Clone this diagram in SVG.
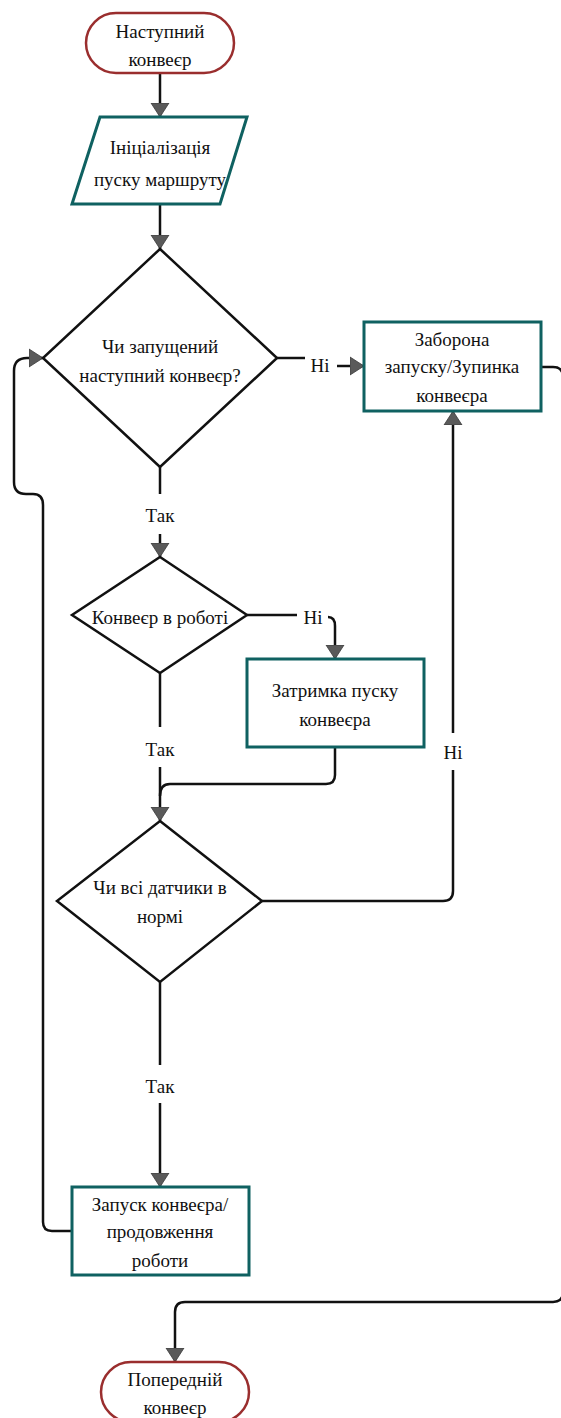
<svg xmlns="http://www.w3.org/2000/svg" width="561" height="1418" viewBox="0 0 561 1418">
<style>
.bg{fill:#fff}
.term{fill:#fff;stroke:#9a2e2e;stroke-width:2.5}
.proc{fill:#fff;stroke:#0f6161;stroke-width:3}
.dec{fill:#fff;stroke:#111;stroke-width:2.5;stroke-linejoin:miter}
.t{font-family:"Liberation Serif","DejaVu Serif",serif;font-size:19px;fill:#111;text-anchor:middle}
.c{fill:none;stroke:#111;stroke-width:2.5}
.ca{fill:none;stroke:#111;stroke-width:2.5;marker-end:url(#ah)}
</style>
<defs>
<marker id="ah" markerUnits="userSpaceOnUse" markerWidth="16" markerHeight="20" refX="14" refY="10" orient="auto" viewBox="0 0 16 20">
<path d="M0,1 L14,10 L0,19 Z" fill="#5a5a5a" stroke="#3a3a3a" stroke-width="0.8"/>
</marker>
</defs>
<rect class="bg" x="0" y="0" width="561" height="1418"/>
<g id="connectors">
<path class="ca" d="M160 73 V117"/>
<path class="ca" d="M160 204 V249"/>
<path class="c" d="M277 358 H305"/>
<path class="ca" d="M337 366 H364"/>
<path class="c" d="M160 467 V494"/>
<path class="ca" d="M160 534 V557"/>
<path class="c" d="M247 615 H297"/>
<path class="ca" d="M328 617 Q335 617 335 626 V659"/>
<path class="c" d="M160 673 V727"/>
<path class="ca" d="M160 767 V821"/>
<path class="c" d="M335 747 V775 Q335 784 326 784 H170 Q160 784 160 796"/>
<path class="c" d="M262 901 H443 Q453 901 453 891 V770"/>
<path class="ca" d="M453 733 V411"/>
<path class="c" d="M160 982 V1065"/>
<path class="ca" d="M160 1103 V1187"/>
<path class="ca" d="M72 1231 H52 Q43 1231 43 1222 V505 Q43 494 33 494 H26 Q14 494 14 482 V371 Q14 358 27 358 H43"/>
<path class="ca" d="M541 367 H553 Q563 367 563 377 V1292 Q563 1302 553 1302 H185 Q175 1302 175 1312 V1362"/>
<text class="t" x="320" y="372">Ні</text>
<text class="t" x="160" y="522">Так</text>
<text class="t" x="313" y="624">Ні</text>
<text class="t" x="160" y="756">Так</text>
<text class="t" x="453" y="759">Ні</text>
<text class="t" x="160" y="1093">Так</text>
</g>
<g id="start">
<rect class="term" x="86" y="13" width="148" height="60" rx="30" ry="30"/>
<text class="t" x="160" y="38">Наступний</text>
<text class="t" x="160" y="66">конвеєр</text>
</g>
<g id="init">
<polygon class="proc" points="100,117 247,117 220,204 72,204"/>
<text class="t" x="160" y="154">Ініціалізація</text>
<text class="t" x="160" y="186">пуску маршруту</text>
</g>
<g id="dec1">
<polygon class="dec" points="160,249 277,358 160,467 43,358"/>
<text class="t" x="160" y="353">Чи запущений</text>
<text class="t" x="160" y="382">наступний конвеєр?</text>
</g>
<g id="stop">
<rect class="proc" x="364" y="322" width="177" height="89"/>
<text class="t" x="452" y="346">Заборона</text>
<text class="t" x="452" y="373">запуску/Зупинка</text>
<text class="t" x="452" y="402">конвеєра</text>
</g>
<g id="dec2">
<polygon class="dec" points="160,557 247,615 160,673 72,615"/>
<text class="t" x="160" y="624">Конвеєр в роботі</text>
</g>
<g id="delay">
<rect class="proc" x="247" y="659" width="177" height="88"/>
<text class="t" x="335" y="697">Затримка пуску</text>
<text class="t" x="335" y="726">конвеєра</text>
</g>
<g id="dec3">
<polygon class="dec" points="160,821 262,901 160,982 57,901"/>
<text class="t" x="160" y="894">Чи всі датчики в</text>
<text class="t" x="160" y="923">нормі</text>
</g>
<g id="run">
<rect class="proc" x="72" y="1187" width="177" height="88"/>
<text class="t" x="160" y="1211">Запуск конвеєра/</text>
<text class="t" x="160" y="1238">продовження</text>
<text class="t" x="160" y="1267">роботи</text>
</g>
<g id="end">
<rect class="term" x="101" y="1362" width="148" height="60" rx="30" ry="30"/>
<text class="t" x="175" y="1386">Попередній</text>
<text class="t" x="175" y="1414">конвеєр</text>
</g>
</svg>
